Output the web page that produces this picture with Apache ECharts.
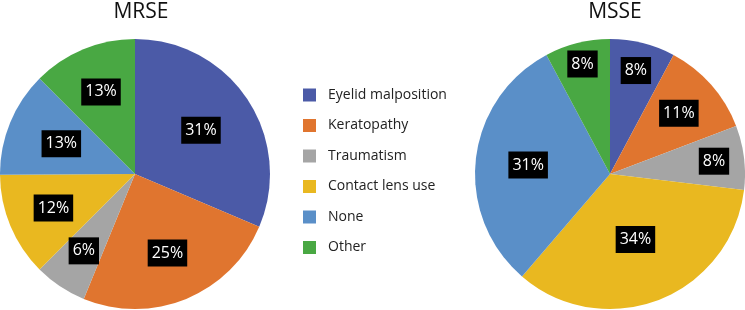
<!DOCTYPE html>
<html>
<head>
<meta charset="utf-8">
<script src="https://cdn.jsdelivr.net/npm/echarts@6/dist/echarts.min.js"></script>
<style>
  html, body { margin: 0; padding: 0; background: #fff; }
  #chart { width: 745px; height: 310px; }
</style>
</head>
<body>
<div id="chart"></div>
<script>
const categories = ["Eyelid malposition", "Keratopathy", "Traumatism", "Contact lens use", "None", "Other"];
const colors = ["#4b5aa7", "#e0752f", "#a5a5a5", "#e9b820", "#5a8fc8", "#49a843"];
const titles = ["MRSE", "MSSE"];
// share of each cause (%)
const mrseValues = [31.4, 24.8, 6.3, 12.4, 12.6, 12.5];
const msseValues = [7.8, 11.4, 7.7, 34.4, 30.9, 7.8];

// layout: pie centres and how far out each label sits (fraction of radius)
const centers = [[135, 174], [610, 174]];
const radius = 135;
const labelRadius = [
  [0.586, 0.633, 0.684, 0.655, 0.59, 0.658],
  [0.79, 0.68, 0.776, 0.52, 0.61, 0.84],
];

const fontFamily = "'Open Sans', 'Noto Sans', sans-serif";

const chart = echarts.init(document.getElementById("chart"));

const toData = (values) =>
  values.map((v, i) => ({ name: categories[i], value: v }));

const pieSeries = (name, values, idx) => ({
  name: name,
  type: "pie",
  center: centers[idx],
  radius: radius,
  startAngle: 90,
  clockwise: true,
  data: toData(values),
  label: {
    show: true,
    position: "inside",
    formatter: (p) => Math.round(p.percent) + "%",
    color: "#fff",
    backgroundColor: "#000",
    fontFamily: fontFamily,
    fontSize: 16,
    lineHeight: 16,
    padding: [6, 4, 5, 4],
  },
  labelLine: { show: false },
  // default "inside" puts the label at half radius; push it out along the same direction
  labelLayout: (params) => {
    const c = centers[params.seriesIndex];
    const r = params.labelRect;
    const lx = r.x + r.width / 2 - c[0];
    const ly = r.y + r.height / 2 - c[1];
    const len = Math.sqrt(lx * lx + ly * ly) || 1;
    const d = labelRadius[params.seriesIndex][params.dataIndex] * radius;
    return {
      x: c[0] + lx / len * d,
      y: c[1] + ly / len * d,
      align: "center",
      verticalAlign: "middle",
    };
  },
  itemStyle: { borderWidth: 0 },
  emphasis: { disabled: true },
  animation: false,
});

const titleStyle = { fontFamily: fontFamily, fontSize: 21, fontWeight: "normal", color: "#111" };

const option = {
  color: colors,
  title: [
    { text: titles[0], left: 136, top: -3, textAlign: "center", textStyle: titleStyle },
    { text: titles[1], left: 610, top: -3, textAlign: "center", textStyle: titleStyle },
  ],
  legend: {
    data: categories,
    orient: "vertical",
    left: 303,
    top: 88,
    padding: 0,
    itemWidth: 13,
    itemHeight: 13,
    itemGap: 16.5,
    icon: "rect",
    textStyle: { fontFamily: fontFamily, fontSize: 14, color: "#222", padding: [0, 0, 0, 7] },
    selectedMode: false,
  },
  series: [
    pieSeries(titles[0], mrseValues, 0),
    pieSeries(titles[1], msseValues, 1),
  ],
};

chart.setOption(option);
</script>
</body>
</html>
